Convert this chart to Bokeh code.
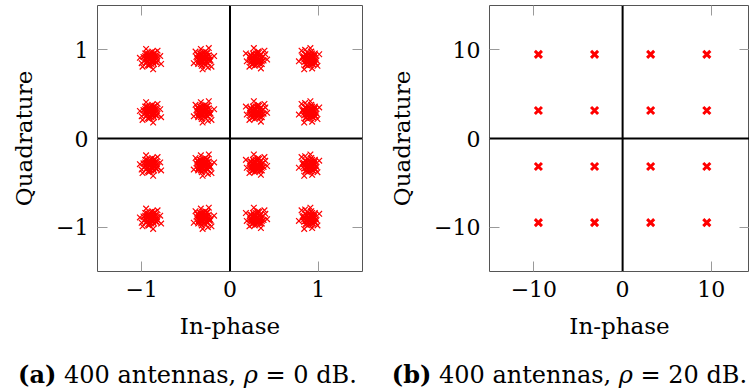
from bokeh.plotting import figure
from bokeh.models import FixedTicker, LinearAxis, Span, Div, Range1d
from bokeh.layouts import row, column
from bokeh.embed import file_html
from bokeh.resources import INLINE

# ---- data -------------------------------------------------------------
# 16-QAM cluster centres (panel a, rho = 0 dB)
levels_a = [-0.9, -0.3, 0.3, 0.9]
# received-sample spread around each centre (units of 0.01)
spread_dx = [0, 2, -1, -2, 1, 3, 0, -3, 1,
             4, -4, 5, -4, 2, -2, 3, -1, 5, -5, 0, 1, 3, -3, 3, -3,
             7, -7, 1, -1, 6, -6, 6, -5, 4, -4, 4, -3, 8, -8, 2, -2, 7, -6, 5,
             11, -10, 3, -5, 12, -12, 8, -9]
spread_dy = [0, 1, 2, -1, -2, 0, 3, 1, -3,
             2, 2, -2, -3, 4, 5, -4, -5, 1, -1, 5, -6, 3, -3, -3, 4,
             1, -2, 7, -7, 4, 3, -4, -5, 6, 6, -6, -7, -2, 2, 8, -8, -4, 6, 7,
             3, -5, -12, 11, -6, 1, 9, -9]
# panel b (rho = 20 dB): symbols
levels_b = [-9.49, -3.16, 3.16, 9.49]

ticks_a = [-1, 0, 1]
tick_labels_a = ["\u22121", "0", "1"]
ticks_b = [-10, 0, 10]
tick_labels_b = ["\u221210", "0", "10"]

caption_a = "<b>(a)</b> 400 antennas, <i>\u03c1</i> = 0 dB."
caption_b = "<b>(b)</b> 400 antennas, <i>\u03c1</i> = 20 dB."

FONT = "DejaVu Serif"
RED = "#ff0000"

# build the noisy clusters for panel a (rotate the spread pattern per cluster)
ax_pts, ay_pts = [], []
k = 0
for cy in levels_a:
    for cx in levels_a:
        r = k % 4
        for dx, dy in zip(spread_dx, spread_dy):
            if r == 0:
                ox, oy = dx, dy
            elif r == 1:
                ox, oy = -dy, dx
            elif r == 2:
                ox, oy = -dx, -dy
            else:
                ox, oy = dy, -dx
            ax_pts.append(cx + ox / 100.0)
            ay_pts.append(cy + oy / 100.0)
        k += 1

bx_pts, by_pts = [], []
for cy in levels_b:
    for cx in levels_b:
        bx_pts.append(cx)
        by_pts.append(cy)


def style_axis(ax, ticks, labels, show_labels=True):
    ax.ticker = FixedTicker(ticks=ticks)
    ax.major_tick_in = 10
    ax.major_tick_out = 0
    ax.minor_tick_in = 0
    ax.minor_tick_out = 0
    ax.minor_tick_line_color = None
    ax.axis_line_color = None
    ax.major_tick_line_color = "#9a9a9a"
    ax.major_tick_line_width = 1
    if show_labels:
        ax.major_label_overrides = dict(zip(ticks, labels))
        ax.major_label_text_font = FONT
        ax.major_label_text_font_size = "22px"
        ax.major_label_text_color = "black"
        ax.major_label_standoff = 9
        ax.axis_label_text_font = FONT
        ax.axis_label_text_font_size = "23px"
        ax.axis_label_text_font_style = "normal"
        ax.axis_label_text_color = "black"
    else:
        ax.major_label_overrides = {t: "" for t in ticks}
        ax.major_label_text_font_size = "0px"
        ax.major_label_standoff = 0
        ax.axis_label = None


def make_fig(width, min_left, min_right, xr, yr, ticks, labels, ylab_standoff):
    p = figure(width=width, height=346, x_range=Range1d(*xr), y_range=Range1d(*yr),
               output_backend="svg", toolbar_location=None,
               min_border_left=min_left, min_border_right=min_right,
               min_border_top=5, min_border_bottom=75)
    p.grid.visible = False
    p.outline_line_color = "#555555"
    p.outline_line_width = 1
    p.background_fill_color = "white"
    p.border_fill_color = "white"
    p.xaxis.axis_label = "In-phase"
    p.yaxis.axis_label = "Quadrature"
    for ax in p.xaxis + p.yaxis:
        style_axis(ax, ticks, labels)
    p.xaxis.axis_label_standoff = 13
    p.yaxis.axis_label_standoff = ylab_standoff
    top = LinearAxis()
    style_axis(top, ticks, labels, show_labels=False)
    p.add_layout(top, "above")
    right = LinearAxis()
    style_axis(right, ticks, labels, show_labels=False)
    p.add_layout(right, "right")
    p.add_layout(Span(location=0, dimension="width", line_color="black", line_width=2))
    p.add_layout(Span(location=0, dimension="height", line_color="black", line_width=2))
    return p


pa = make_fig(380, 97, 18, (-1.5, 1.5), (-1.5, 1.5), ticks_a, tick_labels_a, 16)
pa.scatter(ax_pts, ay_pts, marker="x", size=8, line_color=RED, line_width=1.2)

pb = make_fig(369, 109, 0, (-15, 14.3), (-15, 15), ticks_b, tick_labels_b, 16)
pb.scatter(bx_pts, by_pts, marker="x", size=10, line_color=RED, line_width=3)

cap_style = {"font-family": FONT, "font-size": "24px", "text-align": "center",
             "color": "black", "padding-top": "15px", "box-sizing": "border-box",
             "line-height": "28px", "white-space": "nowrap"}
da = Div(text=caption_a, width=380, height=46, margin=0,
         styles=dict(cap_style, **{"padding-right": "5px"}))
db = Div(text=caption_b, width=369, height=46, margin=0,
         styles=dict(cap_style, **{"padding-left": "10px"}))

layout = row(column(pa, da), column(pb, db))

open("out.html", "w").write(file_html(layout, INLINE))
